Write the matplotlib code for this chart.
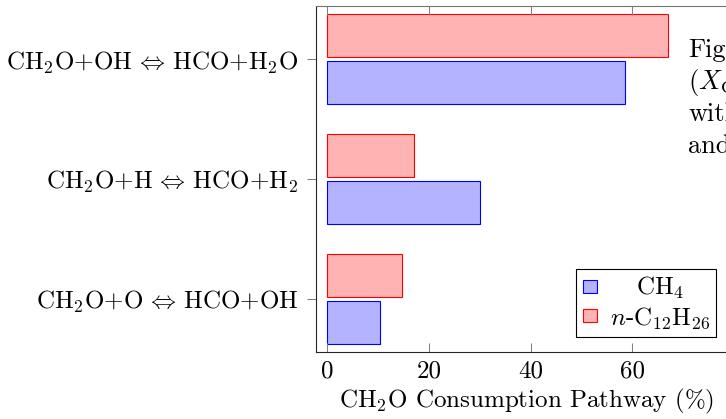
import matplotlib
matplotlib.use("Agg")
import matplotlib.pyplot as plt
import numpy as np

plt.rcParams["font.family"] = "serif"
plt.rcParams["font.serif"] = ["cmr10"]
plt.rcParams["mathtext.fontset"] = "cm"
plt.rcParams["axes.formatter.use_mathtext"] = True

# reactions, bottom to top
reactions = [
    r"CH$_2$O+O$\,\Leftrightarrow\,$HCO+OH",
    r"CH$_2$O+H$\,\Leftrightarrow\,$HCO+H$_2$",
    r"CH$_2$O+OH$\,\Leftrightarrow\,$HCO+H$_2$O",
]
ch4 = [10.3, 30.1, 58.6]
dodecane = [14.7, 17.0, 67.1]
x_ticks = [0, 20, 40, 60]

FS = 18
W, H = 726, 419
fig = plt.figure(figsize=(W / 100, H / 100), dpi=100)
ax = fig.add_axes([316 / W, 67 / H, 421 / W, 346 / H])

y = np.arange(len(reactions))
shift = 0.196
bh = 0.355
ax.barh(y - shift, ch4, height=bh, color="#b3b3ff", edgecolor="blue",
        linewidth=0.8, label=r"CH$_4$")
ax.barh(y + shift, dodecane, height=bh, color="#ffb3b3", edgecolor="red",
        linewidth=0.8, label=r"$n$-C$_{12}$H$_{26}$")

ax.set_xlim(-2.2, 80.6)
ax.set_ylim(-0.44, 2.444)
ax.set_yticks(y)
ax.set_yticklabels(reactions, fontsize=FS)
ax.set_xticks(x_ticks)
ax.set_xticklabels([str(t) for t in x_ticks], fontsize=FS)
ax.tick_params(axis="x", direction="in", top=True, length=6.5, width=0.75,
               color="0.5", pad=6)
ax.tick_params(axis="y", direction="out", length=6.5, width=0.75,
               color="0.5", pad=6)
for s in ["left", "bottom"]:
    ax.spines[s].set_color("0.15")
    ax.spines[s].set_linewidth(0.8)
ax.spines["top"].set_color("0.45")
ax.spines["top"].set_linewidth(0.8)
ax.set_xlabel(r"CH$_2$O Consumption Pathway (%)", fontsize=FS, labelpad=3)

leg = ax.legend(loc="lower right", bbox_to_anchor=(716 / W, 82 / H),
                bbox_transform=fig.transFigure, fontsize=FS, fancybox=False,
                edgecolor="black", framealpha=1, handlelength=0.58,
                handleheight=0.4, borderpad=0.25, labelspacing=0.15,
                handletextpad=0.5, borderaxespad=0)
leg.get_frame().set_linewidth(0.8)

# centre the shorter legend label over the longer one
fig.canvas.draw()
rend = fig.canvas.get_renderer()
widths = [t.get_window_extent(rend).width for t in leg.get_texts()]
for t, w in zip(leg.get_texts(), widths):
    t.set_x((max(widths) - w) / 2)

# running caption text beside the plot
caption = ["Figure", r"$(X_{\mathrm{CH_2O}})$", "with", "and"]
for i, line in enumerate(caption):
    fig.text(688 / W, 1 - (57 + 32 * i) / H, line, fontsize=19,
             va="baseline", ha="left")

fig.savefig("out.png", dpi=100)
